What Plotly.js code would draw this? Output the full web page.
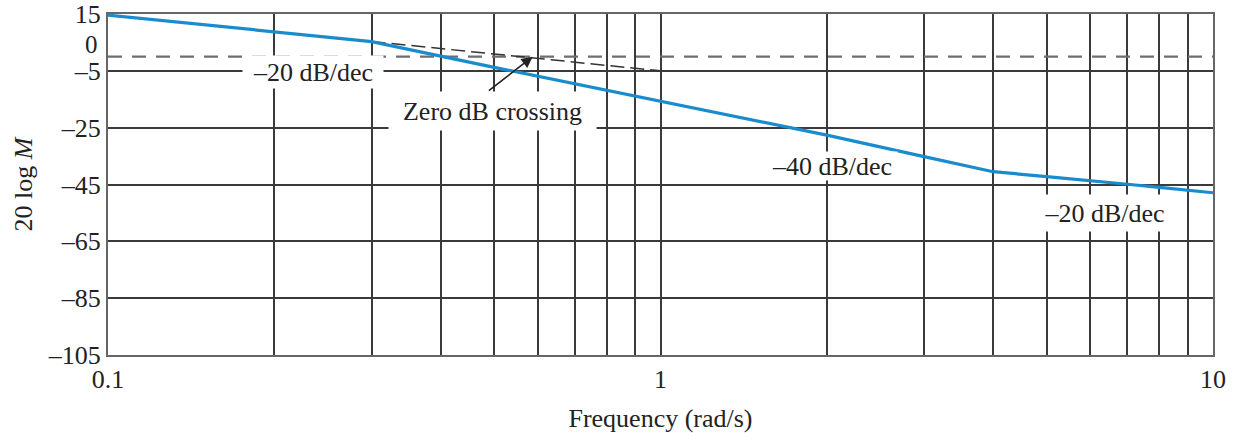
<!DOCTYPE html>
<html>
<head>
<meta charset="utf-8">
<script src="https://cdn.plot.ly/plotly-3.0.1.min.js"></script>
<style>html,body{margin:0;padding:0;background:#fff;}#chart{width:1239px;height:440px;}</style>
</head>
<body>
<div id="chart"></div>
<script>
// Magnitude curve (Bode plot)
const freq = [0.1, 0.2, 0.3, 0.5, 1, 2, 3, 4, 5, 6, 7, 8, 9, 10];
const magDb = [14.6, 8.6, 5.3, -3.8, -15.7, -27.6, -35.2, -40.5, -42.2, -43.8, -44.9, -46.0, -46.9, -47.9];
// -20 dB/dec asymptote extension
const asymFreq = [0.3, 1];
const asymDb = [5.3, -5];
// 0 dB reference
const zeroFreq = [0.1, 10];
const zeroDb = [0, 0];
// ticks
const xTickVals = [0.1,0.2,0.3,0.4,0.5,0.6,0.7,0.8,0.9,1,2,3,4,5,6,7,8,9,10];
const xTickText = ['0.1','','','','','','','','','1','','','','','','','','','10'];
const yTickVals = [15, -5, -25, -45, -65, -85, -105];
const yTickText = ['15', '\u20135', '\u201325', '\u201345', '\u201365', '\u201385', '\u2013105'];
// annotations
const labels = [
  {text: '\u201320 dB/dec', x: 0.235, y: -5.4, w: 140, h: 32},
  {text: 'Zero dB crossing', x: 0.497, y: -19.0, w: 207, h: 38},
  {text: '\u201340 dB/dec', x: 2.04, y: -38.6, w: 130, h: 28},
  {text: '\u201320 dB/dec', x: 6.35, y: -55.0, w: 137, h: 36}
];
const crossing = {x: 0.587, y: 0, tailX: 0.486, tailY: -12.4};

const font = 'Liberation Serif, Times New Roman, serif';
const txtColor = '#222';

const traces = [
  {x: zeroFreq, y: zeroDb, mode: 'lines', line: {color: '#6e6e6e', width: 2.2, dash: '14px,10px'}, hoverinfo: 'skip'},
  {x: asymFreq, y: asymDb, mode: 'lines', line: {color: '#333', width: 1.5, dash: '14px,6px'}, hoverinfo: 'skip'},
  {x: freq, y: magDb, mode: 'lines', line: {color: '#1a8bcc', width: 3.2}, hoverinfo: 'skip'}
];

const annotations = labels.map(l => ({
  x: Math.log10(l.x), y: l.y, xref: 'x', yref: 'y', text: l.text, showarrow: false,
  bgcolor: '#fff', width: l.w, height: l.h, borderpad: 0,
  font: {family: font, size: 26, color: txtColor}
}));
annotations.push({
  x: Math.log10(crossing.x), y: crossing.y, xref: 'x', yref: 'y',
  ax: Math.log10(crossing.tailX), ay: crossing.tailY, axref: 'x', ayref: 'y',
  text: '', showarrow: true, arrowhead: 2, arrowsize: 1.4, arrowwidth: 1.6, arrowcolor: '#222', standoff: 0
});
annotations.push({
  x: 0, y: 0, xref: 'paper', yref: 'y', text: '0', showarrow: false, xanchor: 'right',
  xshift: -8, yshift: 12, font: {family: font, size: 25, color: txtColor}
});

const layout = {
  width: 1239, height: 440,
  margin: {l: 108, r: 26, t: 14, b: 85},
  paper_bgcolor: '#fff', plot_bgcolor: '#fff',
  showlegend: false,
  font: {family: font, size: 26, color: txtColor},
  xaxis: {
    type: 'log', range: [-1, 1],
    tickvals: xTickVals, ticktext: xTickText, ticks: '',
    showgrid: true, gridcolor: '#3a3a3a', gridwidth: 2,
    showline: true, mirror: true, linecolor: '#666', linewidth: 2,
    zeroline: false,
    tickfont: {family: font, size: 26, color: txtColor},
    title: {text: 'Frequency (rad/s)', font: {family: font, size: 26, color: txtColor}, standoff: 16}
  },
  yaxis: {
    range: [-105, 15],
    tickvals: yTickVals, ticktext: yTickText, ticks: '',
    showgrid: true, gridcolor: '#3a3a3a', gridwidth: 2,
    showline: true, mirror: true, linecolor: '#666', linewidth: 2,
    zeroline: false,
    tickfont: {family: font, size: 26, color: txtColor},
    title: {text: '20 log <i>M</i>', font: {family: font, size: 26, color: txtColor}, standoff: 8}
  },
  annotations: annotations
};

Plotly.newPlot('chart', traces, layout, {staticPlot: true, displayModeBar: false});
</script>
</body>
</html>
